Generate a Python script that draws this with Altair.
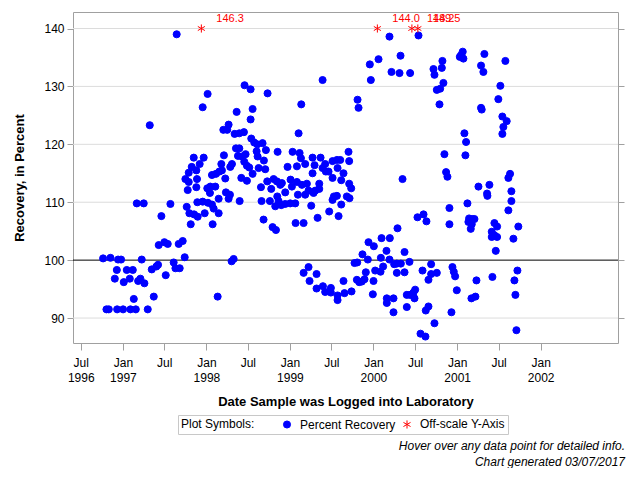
import altair as alt
import pandas as pd

# ---- data (decimal-year date, percent recovery) ----
rec_year = [
    1997.647, 1997.325, 1997.851, 1997.827, 1997.791, 1997.882, 1997.751, 1997.791, 1997.890, 1997.882,
    1997.779, 1997.894, 1997.767, 1997.799, 1997.855, 1997.898, 1997.815, 1997.170, 1997.253, 1997.572,
    1997.464, 1997.432, 1997.500, 1997.540, 1997.671, 1997.719, 1997.743, 1997.611, 1997.632, 1997.683,
    1997.516, 1997.404, 1997.424, 1997.349, 1997.229, 1996.767, 1996.855, 1996.946, 1996.982, 1996.931,
    1997.050, 1997.122, 1996.907, 1997.014, 1997.086, 1997.186, 1997.213, 1997.261, 1997.134, 1997.373,
    1996.807, 1996.835, 1996.935, 1997.006, 1997.094, 1997.158, 1997.301,
    1998.459, 1998.531, 1998.734, 1998.017, 1997.958, 1998.364, 1998.555, 1998.531, 1998.268, 1998.205,
    1998.252, 1998.340, 1998.396, 1998.451, 1998.539, 1998.575, 1998.611, 1998.674, 1998.356, 1998.396,
    1998.714, 1998.854, 1999.033, 1998.603, 1998.471, 1998.380, 1998.428, 1997.970, 1998.212, 1997.922,
    1998.455, 1998.487, 1998.515, 1998.181, 1998.308, 1998.288, 1998.157, 1998.228, 1998.188, 1998.069,
    1998.117, 1998.420, 1998.487, 1998.555, 1998.627, 1998.706, 1998.655, 1998.730, 1998.778, 1998.806,
    1998.846, 1998.905, 1998.886, 1998.973, 1999.009, 1998.945, 1999.025, 1998.049, 1998.013, 1998.109,
    1998.045, 1998.149, 1998.236, 1998.284, 1998.268, 1998.400, 1997.958, 1998.021, 1998.069, 1998.089,
    1997.982, 1998.149, 1998.077, 1998.662, 1998.686, 1998.762, 1998.794, 1998.834, 1998.850, 1998.866,
    1998.826, 1998.898, 1998.945, 1999.005, 1999.065, 1999.069, 1998.304, 1998.328, 1998.137, 1998.615,
    1998.690,
    2000.192, 2000.061, 1999.957, 1999.969, 2000.216, 1999.392, 1999.137, 1999.810, 1999.822, 1999.105,
    1999.117, 1999.133, 1999.184, 1999.085, 1999.272, 1999.368, 1999.296, 1999.423, 1999.463, 1999.511,
    1999.563, 1999.603, 1999.702, 1999.710, 1999.272, 1999.392, 1999.431, 1999.511, 1999.571, 1999.642,
    1999.615, 1999.352, 1999.145, 1999.204, 1999.085, 1999.224, 1999.284, 1999.304, 1999.352, 1999.184,
    1999.097, 1999.256, 1999.527, 1999.563, 1999.511, 1999.615, 1999.682, 1999.714, 1999.710, 1999.734,
    1999.471, 1999.332, 1999.583, 1999.165,
    1999.941, 2000.005, 2000.097, 2000.196, 2000.156, 1999.869, 1999.806, 1999.774, 1999.933, 2000.089,
    2000.116, 2000.192, 2000.248, 2000.021, 2000.085, 1999.909, 1999.861, 1999.802, 1999.830, 1999.893,
    2000.001, 1999.642, 1999.993, 2000.160, 2000.160, 2000.240, 2000.240, 1999.738, 1999.654, 1999.571,
    1999.571, 1999.491, 1999.491, 1999.423, 1999.396, 1999.320, 1999.320, 1999.236, 1999.224, 1999.165,
    2000.539, 2000.324, 2000.312, 2000.439, 2000.718, 2000.825, 2000.818, 2000.730, 2000.837, 2000.758,
    2000.798, 2000.790, 2001.033, 2001.068, 2001.076, 2001.048, 2001.327, 2001.287, 2001.315, 2001.578,
    2001.518, 2001.494, 2001.287, 2001.295, 2001.542, 2001.594, 2001.554, 2001.542, 2001.088, 2001.108,
    2001.100, 2000.849, 2000.869, 2000.885, 2000.348, 2001.634, 2001.614, 2001.650, 2001.650, 2001.614,
    2001.256, 2001.387, 2001.359, 2001.363, 2001.124, 2000.909, 2000.909, 2000.527, 2000.599, 2000.634,
    2001.144, 2001.184, 2001.208, 2001.136, 2001.176, 2001.164, 2001.447, 2001.479, 2001.415, 2001.447,
    2001.479, 2001.415, 2001.733, 2001.674, 2001.463, 2000.288, 2000.372, 2000.431, 2000.328, 2000.280,
    2000.280, 2000.372, 2000.587, 2000.690, 2000.690, 2000.758, 2000.658, 2000.945, 2000.961, 2000.977,
    2001.232, 2001.423, 2001.722, 2001.686, 2001.698, 2000.997, 2001.172, 2001.220, 2000.499, 2000.479,
    2000.439, 2000.399, 2000.491, 2000.399, 2000.626, 2000.658, 2000.933, 2000.730, 2000.563, 2000.622,
    2001.710,
]
rec_value = [
    139.0, 123.3, 117.7, 116.1, 115.1, 115.5, 114.0, 113.5, 114.0, 112.6,
    112.1, 110.0, 109.2, 108.1, 107.9, 107.5, 106.2, 109.8, 109.8, 109.7,
    107.6, 102.6, 103.1, 102.8, 102.8, 103.3, 100.5, 99.6, 98.6, 98.6,
    97.4, 98.9, 99.2, 98.4, 100.1, 100.3, 100.4, 100.1, 100.1, 98.3,
    98.3, 98.3, 96.8, 96.2, 96.8, 96.4, 96.8, 96.0, 93.3, 93.7,
    91.5, 91.5, 91.5, 91.5, 91.5, 91.5, 91.5,
    130.2, 129.5, 128.8, 128.7, 126.4, 125.6, 126.1, 124.3, 123.4, 122.5,
    122.5, 121.8, 121.9, 122.1, 121.0, 120.3, 120.0, 120.2, 119.3, 119.3,
    119.0, 118.7, 118.7, 118.8, 118.3, 118.0, 117.9, 117.7, 118.1, 116.6,
    117.0, 116.3, 116.0, 116.6, 116.6, 116.1, 115.3, 114.1, 115.5, 114.7,
    114.9, 114.2, 113.7, 114.9, 115.9, 115.7, 112.6, 113.6, 112.3, 114.0,
    113.6, 113.3, 113.0, 116.1, 113.9, 111.7, 112.7, 112.7, 112.4, 112.7,
    111.6, 110.6, 111.7, 111.3, 110.6, 110.2, 110.1, 109.9, 109.6, 108.9,
    108.1, 108.1, 106.2, 110.2, 107.0, 110.2, 105.7, 105.2, 111.0, 110.2,
    109.3, 109.5, 109.7, 109.8, 109.8, 106.4, 99.8, 100.2, 93.7, 117.9,
    117.2,
    138.6, 134.7, 133.8, 131.1, 132.5, 131.1, 126.9, 127.7, 126.3, 121.9,
    118.5, 117.6, 116.6, 116.2, 117.7, 117.7, 116.4, 116.6, 115.3, 117.1,
    117.3, 117.3, 118.7, 117.1, 115.0, 115.9, 115.3, 114.2, 115.9, 115.0,
    113.8, 113.2, 113.0, 113.2, 113.5, 112.0, 111.6, 112.0, 112.3, 111.3,
    111.3, 109.4, 111.0, 111.1, 110.4, 109.6, 111.0, 110.7, 113.2, 112.4,
    108.4, 107.3, 107.6, 106.4,
    103.1, 102.4, 103.8, 103.8, 101.6, 101.0, 99.6, 99.5, 100.1, 100.4,
    98.9, 100.1, 99.3, 98.2, 98.0, 97.9, 96.3, 96.6, 96.2, 96.7,
    96.4, 96.4, 94.1, 93.4, 92.6, 93.4, 91.0, 94.6, 94.3, 93.9,
    93.1, 95.2, 94.4, 94.5, 95.5, 95.1, 97.6, 96.4, 98.8, 97.8,
    138.8, 135.3, 132.3, 132.3, 133.0, 134.4, 133.2, 132.0, 130.6, 129.4,
    129.6, 126.9, 135.1, 136.0, 134.8, 135.4, 135.6, 133.6, 132.5, 134.4,
    130.1, 127.8, 126.3, 126.0, 124.8, 124.0, 123.0, 121.8, 121.9, 120.4,
    118.1, 118.3, 115.2, 114.4, 114.0, 114.9, 114.2, 111.9, 110.2, 108.6,
    112.7, 113.0, 111.5, 111.1, 109.8, 109.0, 106.2, 107.4, 107.9, 106.7,
    107.2, 107.1, 107.1, 106.6, 106.2, 105.4, 106.4, 105.8, 104.9, 104.3,
    104.0, 104.0, 105.8, 103.7, 101.6, 105.5, 101.4, 99.7, 99.4, 99.4,
    97.8, 97.9, 98.2, 99.3, 97.6, 97.8, 96.6, 98.8, 98.0, 97.2,
    96.5, 97.1, 98.2, 96.5, 94.0, 94.8, 93.4, 93.7, 94.9, 94.4,
    94.0, 94.0, 93.4, 91.9, 91.3, 92.0, 91.0, 89.1, 87.3, 86.8,
    87.9,
]
off_year = [1997.942, 2000.047, 2000.460, 2000.531]
off_value = [146.3, 144.0, 148.2, 149.5]
off_label = ["146.3", "144.0", "148.2", "149.5"]

y_ticks = [90, 100, 110, 120, 130, 140]
grid_values = [90, 110, 120, 130, 140]
ref_value = [100]
x_ticks = [(1996, 7), (1997, 1), (1997, 7), (1998, 1), (1998, 7), (1999, 1), (1999, 7),
           (2000, 1), (2000, 7), (2001, 1), (2001, 7), (2002, 1)]
sym_domain = ["Percent Recovery", "Off-scale Y-Axis"]
sym_colors = ["#0000ff", "#ff0000"]
ASTERISK = "M0,-1.15L0,1.15M-1,-0.58L1,0.58M-1,0.58L1,-0.58"
Y_CAP = 140

ORIGIN = pd.Timestamp("1996-07-01")


def to_date(y):
    t = ORIGIN + pd.to_timedelta((y - 1996.5) * 365.45, unit="D")
    return t.strftime("%Y-%m-%dT%H:%M:%SZ")


rec = pd.DataFrame({"date": [to_date(v) for v in rec_year], "value": rec_value,
                    "sym": sym_domain[0]})
rec["plot_y"] = rec["value"]
off = pd.DataFrame({"date": [to_date(v) for v in off_year], "value": off_value,
                    "label": off_label, "sym": sym_domain[1]})
off["plot_y"] = off["value"].clip(upper=Y_CAP)
pts = pd.concat([rec, off[["date", "value", "sym", "plot_y"]]], ignore_index=True)

FONT = "Liberation Sans"
GRAY = "#a0a0a0"

x_scale = alt.Scale(type="utc", nice=False,
                    domain=[alt.DateTime(year=1996, month=5, date=28, utc=True),
                            alt.DateTime(year=2002, month=12, date=5, utc=True)])
y_scale = alt.Scale(domain=[85.69, 142.85], nice=False, zero=False)

x_axis = alt.Axis(
    values=[alt.DateTime(year=yy, month=mm, date=1, utc=True) for yy, mm in x_ticks],
    labelExpr="utcmonth(datum.value) == 0 ? ['Jan', '' + utcyear(datum.value)] : "
              "(utcyear(datum.value) == 1996 ? ['Jul', '1996'] : ['Jul'])",
    labelLineHeight=15, labelBaseline="top", labelPadding=7, tickSize=7,
    grid=False, domain=False, title="Date Sample was Logged into Laboratory",
    titleY=58, titleBaseline="middle",
)
y_axis_left = alt.Axis(values=y_ticks, grid=False, domain=False, tickSize=6, labelPadding=3,
                       title="Recovery, in Percent", titleX=-47)
y_axis_right = alt.Axis(values=y_ticks, orient="right", labels=False, grid=False,
                        domain=False, tickSize=6, title=None)

legend = alt.Legend(
    orient="none", legendX=105, legendY=403, direction="horizontal",
    title="Plot Symbols:", titleOrient="left", titleFontWeight="normal",
    titleFontSize=12, titleColor="black", titleFont=FONT, titlePadding=26,
    titleBaseline="middle",
    labelFontSize=12, labelColor="black", labelFont=FONT, labelOffset=7,
    symbolSize=50, symbolStrokeWidth=1, columnPadding=5,
    strokeColor="#c8c8c8", padding=3,
)

grid = alt.Chart(pd.DataFrame({"g": grid_values})).mark_rule(
    color="#dcdcdc", strokeWidth=1
).encode(
    y=alt.Y("g:Q", scale=y_scale, axis=y_axis_right)
)

rule = alt.Chart(pd.DataFrame({"ref": ref_value})).mark_rule(color="black", strokeWidth=1).encode(
    y=alt.Y("ref:Q", scale=y_scale, axis=None)
)

points = alt.Chart(pts).mark_point(opacity=1, fillOpacity=1, size=50, strokeWidth=1).encode(
    x=alt.X("date:T", scale=x_scale, axis=x_axis),
    y=alt.Y("plot_y:Q", scale=y_scale, axis=y_axis_left),
    fill=alt.Fill("sym:N", scale=alt.Scale(domain=sym_domain, range=sym_colors), legend=legend),
    stroke=alt.Stroke("sym:N", scale=alt.Scale(domain=sym_domain, range=sym_colors), legend=legend),
    shape=alt.Shape("sym:N", scale=alt.Scale(domain=sym_domain, range=["circle", ASTERISK]),
                    legend=legend),
)

labels = alt.Chart(off).mark_text(align="left", baseline="middle", dx=15, dy=-10,
                                  color="#ff0000", fontSize=11, font=FONT).encode(
    x=alt.X("date:T", scale=x_scale, axis=x_axis),
    y=alt.Y("plot_y:Q", scale=y_scale, axis=None),
    text="label:N",
)

notes = alt.Chart(pd.DataFrame({"t": ["Hover over any data point for detailed info.",
                                      "Chart generated 03/07/2017"],
                                "py": [434, 450]})).mark_text(
    align="right", baseline="middle", fontSize=12, fontStyle="italic", font=FONT, color="black"
).encode(
    x=alt.value(552),
    y=alt.Y("py:Q", scale=None),
    text="t:N",
)

chart = alt.layer(grid, rule, points, labels, notes).resolve_scale(y="independent").properties(
    width=545, height=331,
    padding={"left": 65, "top": 4, "right": 14, "bottom": 125},
    autosize=alt.AutoSizeParams(type="none"),
).configure(font=FONT).configure_view(
    stroke=GRAY, strokeWidth=1
).configure_axis(
    labelFont=FONT, labelFontSize=12, labelColor="black",
    tickColor=GRAY, domainColor=GRAY,
    titleFont=FONT, titleFontSize=13, titleFontWeight="bold", titleColor="black",
)

chart.save("out.html", embed_options={"renderer": "svg", "actions": False})
